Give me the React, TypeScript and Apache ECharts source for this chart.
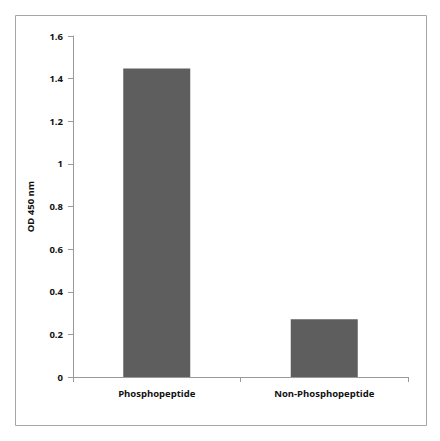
import React, { useEffect, useRef } from "react";
import * as echarts from "echarts";

const categories = ["Phosphopeptide", "Non-Phosphopeptide"];
const odValues = [1.447, 0.271];
const yTicks = { min: 0, max: 1.6, interval: 0.2 };
const yAxisName = "OD 450 nm";

export default function App() {
  const ref = useRef<HTMLDivElement>(null);
  useEffect(() => {
    if (!ref.current) return;
    const chart = echarts.init(ref.current, null, { renderer: "svg" });
    const font = "'Open Sans', 'DejaVu Sans', sans-serif";
    chart.setOption({
      animation: false,
      backgroundColor: "#ffffff",
      grid: { left: 73, right: 32, top: 36, bottom: 64, containLabel: false },
      graphic: [
        {
          type: "rect",
          shape: { x: 15.5, y: 15.5, width: 411, height: 410 },
          style: { fill: "none", stroke: "#a6a6a6", lineWidth: 1 },
          silent: true,
        },
      ],
      xAxis: {
        type: "category",
        data: categories,
        axisLine: { show: true, lineStyle: { color: "#9a9a9a", width: 1 } },
        axisTick: { show: true, length: 5, alignWithLabel: false, lineStyle: { color: "#9a9a9a" } },
        axisLabel: {
          color: "#111",
          fontWeight: "bold",
          fontSize: 9.5,
          fontFamily: font,
          margin: 11,
        },
      },
      yAxis: {
        type: "value",
        min: yTicks.min,
        max: yTicks.max,
        interval: yTicks.interval,
        name: yAxisName,
        nameLocation: "middle",
        nameGap: 38,
        nameRotate: 90,
        nameTextStyle: { color: "#111", fontWeight: "bold", fontSize: 9.5, fontFamily: font },
        splitLine: { show: false },
        axisLine: { show: true, lineStyle: { color: "#9a9a9a", width: 1 } },
        axisTick: { show: true, length: 5, lineStyle: { color: "#9a9a9a" } },
        axisLabel: {
          color: "#111",
          fontWeight: "bold",
          fontSize: 9.5,
          fontFamily: font,
          margin: 10,
          formatter: (v: number) => String(Math.round(v * 10) / 10),
        },
      },
      series: [
        {
          type: "bar",
          data: odValues,
          barWidth: "40%",
          itemStyle: { color: "#5e5e5e" },
        },
      ],
    });
    return () => chart.dispose();
  }, []);
  return (
    <div
      ref={ref}
      style={{ position: "fixed", left: 0, top: 0, width: 440, height: 441 }}
    />
  );
}
